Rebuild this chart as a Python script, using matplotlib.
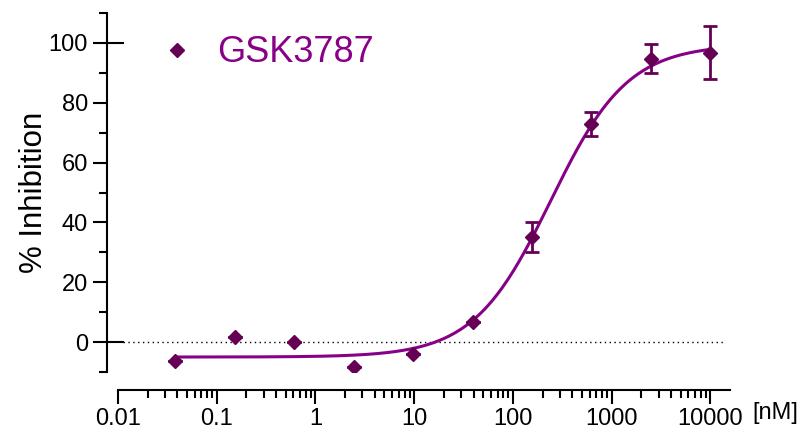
import numpy as np
import matplotlib
matplotlib.use('Agg')
import matplotlib.pyplot as plt
from matplotlib.ticker import LogLocator, FixedLocator, NullFormatter

plt.rcParams['font.family'] = ['Liberation Sans', 'DejaVu Sans']

# data
conc_nM = [0.038, 0.153, 0.61, 2.44, 9.77, 39.1, 156, 625, 2500, 10000]
inhibition = [-6.2, 1.8, 0.0, -8.2, -4.0, 6.8, 35.0, 73.0, 94.8, 96.8]
err_lo = [0, 0, 0, 0, 0, 0, 5.0, 4.0, 5.0, 9.0]
err_hi = [0, 0, 0, 0, 0, 0, 5.0, 3.8, 4.8, 8.9]

# 4PL fit parameters
bottom, top, ec50, hill = -5.0, 99.5, 242.0, 1.11

marker_col = '#650055'
line_col = '#880088'

fig = plt.figure(figsize=(8.02, 4.33), dpi=100)
ax = fig.add_axes([0.1471, 0.1409, 0.7631, 0.829])

xfit = np.logspace(np.log10(conc_nM[0]), np.log10(conc_nM[-1]), 300)
yfit = bottom + (top - bottom) / (1 + (ec50 / xfit) ** hill)
ax.plot(xfit, yfit, color=line_col, lw=2.2, zorder=3)

ax.errorbar(conc_nM, inhibition, yerr=[err_lo, err_hi], fmt='none',
            ecolor=marker_col, elinewidth=2, capsize=4.7, capthick=2, zorder=4)
ax.plot(conc_nM, inhibition, 'D', color=marker_col, ms=7, zorder=5,
        label='GSK3787', linestyle='none')

ax.axhline(0, xmin=0.008, xmax=0.99, color='black', lw=1, ls=(0, (1, 2.5)), zorder=1)
# short inward ticks at 0 and 100
for yv in [0, 100]:
    ax.axhline(yv, xmin=-0.018, xmax=0.008, color='black', lw=1.5, clip_on=False)

ax.set_xscale('log')
ax.set_xlim(0.01, 10 ** 4.2)
ax.set_ylim(-10, 110)

ax.spines['top'].set_visible(False)
ax.spines['right'].set_visible(False)
ax.spines['left'].set_position(('outward', 8))
ax.spines['bottom'].set_position(('outward', 13))
ax.spines['left'].set_linewidth(1.5)
ax.spines['bottom'].set_linewidth(1.5)

xticks = [0.01, 0.1, 1, 10, 100, 1000, 10000]
ax.xaxis.set_major_locator(FixedLocator(xticks))
ax.set_xticklabels(['0.01', '0.1', '1', '10', '100', '1000', '10000'])
ax.xaxis.set_minor_locator(LogLocator(base=10, subs=np.arange(2, 10), numticks=20))
ax.xaxis.set_minor_formatter(NullFormatter())

ax.set_yticks([0, 20, 40, 60, 80, 100])
ax.set_yticks([-10, 10, 30, 50, 70, 90, 110], minor=True)

ax.tick_params(axis='both', which='major', length=10, width=1.5, labelsize=17, color='black')
ax.tick_params(axis='both', which='minor', length=5.8, width=1.5)
ax.tick_params(axis='x', which='major', pad=3)

ax.set_ylabel('% Inhibition', fontsize=22.5, labelpad=0)
ax.text(1.037, -0.114, '[nM]', transform=ax.transAxes, fontsize=17,
        ha='left', va='center')

leg = ax.legend(loc='center left', bbox_to_anchor=(0.0788, 0.889), frameon=False,
                fontsize=26, labelcolor=line_col, handlelength=0.6,
                handletextpad=0.8, borderpad=0, borderaxespad=0)

fig.savefig('out.png', dpi=100)
